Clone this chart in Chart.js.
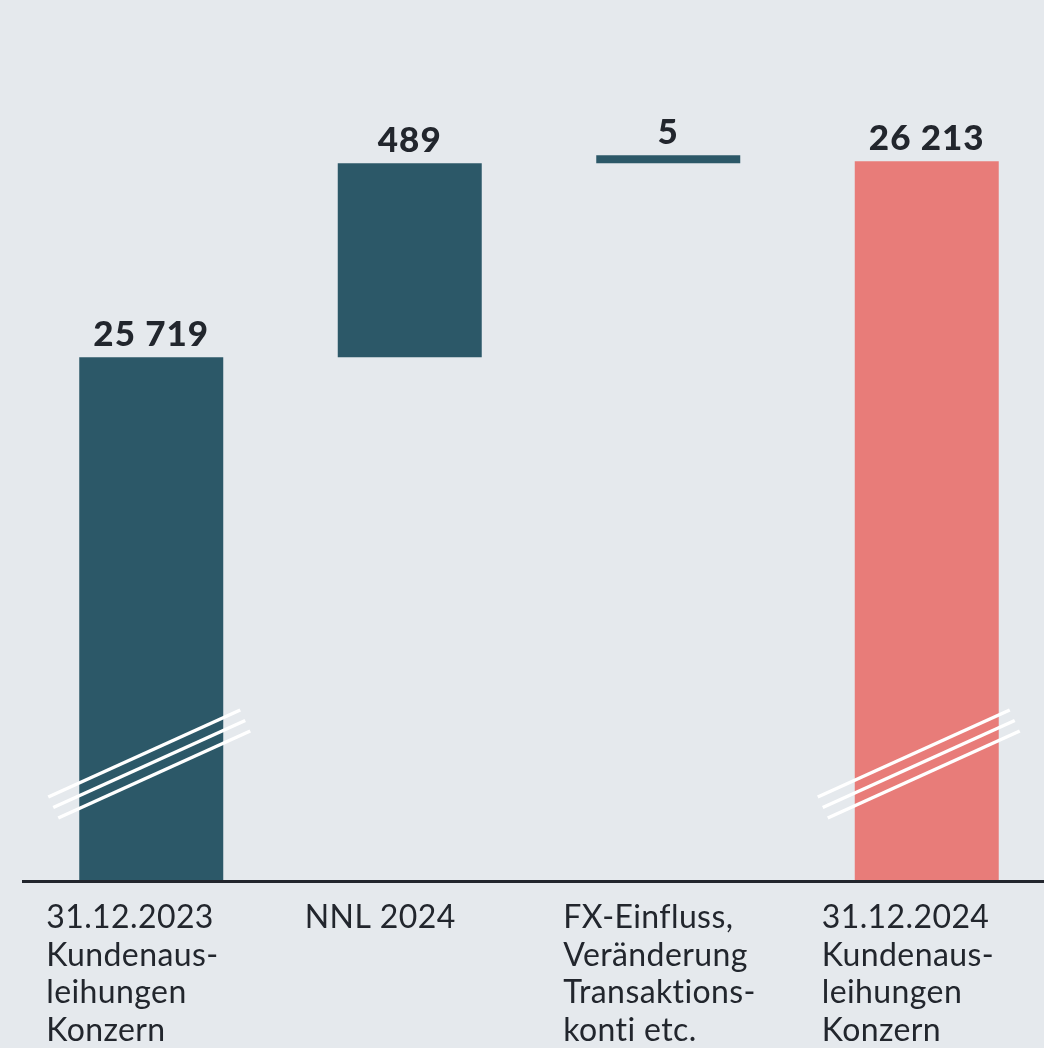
<!DOCTYPE html>
<html>
<head>
<meta charset="utf-8">
<script src="https://cdn.jsdelivr.net/npm/chart.js@4.4.1/dist/chart.umd.min.js"></script>
<style>
  html, body { margin: 0; padding: 0; background: #e5e9ed; overflow: hidden; }
  canvas { display: block; }
</style>
</head>
<body>
<canvas id="chart" width="1060" height="1048"></canvas>
<script>
const categories = [
  ["31.12.2023", "Kundenaus-", "leihungen", "Konzern"],
  ["NNL 2024"],
  ["FX-Einfluss,", "Veränderung", "Transaktions-", "konti etc."],
  ["31.12.2024", "Kundenaus-", "leihungen", "Konzern"],
];
const startValue = 25719;
const changes = [489, 5];
const endValue = 26213;
const valueLabels = ["25 719", "489", "5", "26 213"];
const barColors = ["#2c5868", "#2c5868", "#2c5868", "#e87c79"];
// axis is broken: bars start from this value, not zero
const axisMin = 24402;
const axisMax = 26468;

const ranges = [[axisMin, startValue]];
let running = startValue;
changes.forEach((c) => {
  ranges.push([running, running + c]);
  running += c;
});
ranges.push([axisMin, endValue]);

const ink = "#22262d";

const decorations = {
  id: "decorations",
  afterDatasetsDraw(chart) {
    const { ctx, chartArea, scales } = chart;
    const meta = chart.getDatasetMeta(0);
    ctx.save();

    // break marks on the first and last bar
    ctx.strokeStyle = "#ffffff";
    ctx.lineWidth = 3.5;
    [[0, 0], [3, -6]].forEach(([i, shift]) => {
      const cx = meta.data[i].x + shift;
      for (let k = 0; k < 3; k++) {
        ctx.beginPath();
        ctx.moveTo(cx - 103 + k * 5, 797 + k * 10.5);
        ctx.lineTo(cx + 89 + k * 5, 710 + k * 10.5);
        ctx.stroke();
      }
    });

    // baseline
    ctx.strokeStyle = ink;
    ctx.lineWidth = 3;
    ctx.beginPath();
    ctx.moveTo(chartArea.left, chartArea.bottom + 1.5);
    ctx.lineTo(chart.width, chartArea.bottom + 1.5);
    ctx.stroke();

    // value labels
    ctx.fillStyle = ink;
    ctx.font = "900 35px Lato";
    ctx.letterSpacing = "1px";
    ctx.textAlign = "center";
    ctx.textBaseline = "alphabetic";
    meta.data.forEach((bar, i) => {
      const top = Math.min(bar.y, bar.base);
      ctx.fillText(valueLabels[i], bar.x, top - 11);
    });

    // category labels
    ctx.font = "400 32px Lato";
    ctx.letterSpacing = "0.4px";
    ctx.textAlign = "left";
    categories.forEach((lines, i) => {
      const x = scales.x.getPixelForValue(i) - 105;
      lines.forEach((line, j) => {
        ctx.fillText(line, x, 928 + j * 37.5);
      });
    });
    ctx.restore();
  },
};

new Chart(document.getElementById("chart"), {
  type: "bar",
  data: {
    labels: categories.map((c) => c.join(" ")),
    datasets: [{
      data: ranges,
      backgroundColor: barColors,
      borderWidth: 0,
      barPercentage: 0.557,
      categoryPercentage: 1,
      minBarLength: 8,
    }],
  },
  options: {
    responsive: false,
    animation: false,
    layout: { padding: { left: 22, right: 4, top: 60, bottom: 168 } },
    plugins: { legend: { display: false }, tooltip: { enabled: false } },
    scales: {
      x: { display: false },
      y: { display: false, min: axisMin, max: axisMax },
    },
  },
  plugins: [decorations],
});
</script>
</body>
</html>
